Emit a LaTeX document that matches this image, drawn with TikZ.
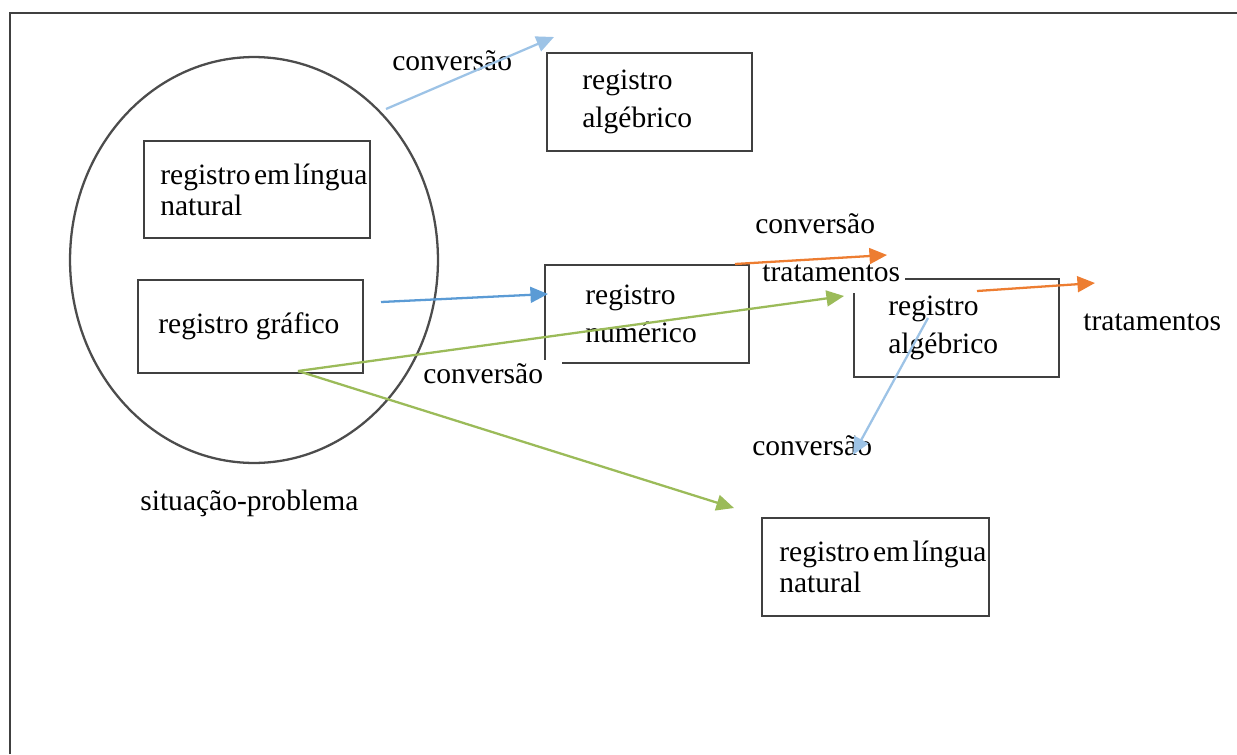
\documentclass[tikz,border=0pt]{standalone}
\usepackage{fontspec}
\setmainfont{Liberation Serif}
\usepackage{xcolor}
\usetikzlibrary{arrows.meta,shapes.geometric}
\definecolor{convblue}{HTML}{9DC3E6}
\definecolor{grafblue}{HTML}{5B9BD5}
\definecolor{tratorange}{HTML}{ED7D31}
\definecolor{convgreen}{HTML}{9BBB59}
\newcommand{\lw}{1.3pt}
\newcommand{\nsp}{\hspace{0.12em}}

\begin{document}
\begin{tikzpicture}[x=0.02cm, y=-0.02cm, >={Triangle[length=10pt,width=9pt]},
    font=\fontsize{16.8}{20}\selectfont,
    boxline/.style={draw=black!75, line width=\lw},
    regbox/.style={rectangle, inner sep=0pt, outer sep=0pt, anchor=north west},
    regtext/.style={inner sep=0pt, anchor=west, align=left},
    tight/.style={font=\fontsize{16.8}{17.6}\selectfont},
    loose/.style={font=\fontsize{16.8}{21.5}\selectfont},
    lbl/.style={inner sep=0pt, anchor=base west},
    arr/.style={->, line width=\lw}]
        \useasboundingbox (0,0) rectangle (1237,754);
        % outer frame
        \draw[boxline] (10,754) -- (10,13) -- (1237,13);
        % situation
        \node[ellipse, boxline, draw=black!70, inner sep=0pt, minimum width=7.36cm, minimum height=8.12cm] (sit) at (254,260) {};
        \node[lbl] (sit-t) at (140,510) {situação-problema};
        % registers
        \node[regbox, boxline, minimum width=4.52cm, minimum height=1.94cm] (ling1) at (144,141) {};
        \node[regtext, tight] (ling1-t) at ([xshift=0.32cm]ling1.west) {registro\nsp em\nsp língua\\natural};
        \node[regbox, boxline, minimum width=4.5cm, minimum height=1.86cm] (graf) at (138,280) {};
        \node[regtext] (graf-t) at ([xshift=0.4cm]graf.west) {registro gráfico};
        \node[regbox, boxline, minimum width=4.1cm, minimum height=1.96cm] (alg1) at (547,53) {};
        \node[regtext, loose] (alg1-t) at ([xshift=0.7cm]alg1.west) {registro\\algébrico};
        \node[regbox, minimum width=4.08cm, minimum height=1.96cm] (num) at (545,265) {};
        \draw[boxline] ([yshift=0.06cm]num.south west) -- (num.north west) -- (num.north east)
            -- (num.south east) -- ([xshift=0.34cm]num.south west);
        \node[regtext, loose] (num-t) at ([xshift=0.8cm]num.west) {registro\\numérico};
        \node[regbox, minimum width=4.1cm, minimum height=1.96cm] (alg2) at (854,279) {};
        \draw[boxline] ([xshift=1.02cm]alg2.north west) -- (alg2.north east) -- (alg2.south east)
            -- (alg2.south west) -- ([yshift=-0.28cm]alg2.north west);
        \node[regtext, loose] (alg2-t) at ([xshift=0.68cm]alg2.west) {registro\\algébrico};
        \node[regbox, boxline, minimum width=4.54cm, minimum height=1.96cm] (ling2) at (762,518) {};
        \node[regtext, tight] (ling2-t) at ([xshift=0.34cm]ling2.west) {registro\nsp em\nsp língua\\natural};
        % labels
        \node[lbl] (conv1) at (392,70) {conversão};
        \node[lbl] (conv2) at (755,233) {conversão};
        \node[lbl] (trat1) at (762,281) {tratamentos};
        \node[lbl] (trat2) at (1083,330) {tratamentos};
        \node[lbl] (conv3) at (423,383) {conversão};
        \node[lbl] (conv4) at (752,455) {conversão};
        % arrow ends
        \coordinate (c1a) at (386,109);
        \coordinate (c1b) at (554,37);
        \coordinate (g1a) at (381,302);
        \coordinate (g1b) at (548,294);
        \coordinate (o1a) at (735,264);
        \coordinate (o1b) at (887,255);
        \coordinate (o2a) at (977,291);
        \coordinate (o2b) at (1095,283);
        \coordinate (gr0) at (298,371);
        \coordinate (gr1) at (844,296);
        \coordinate (gr2) at (734,508);
        \coordinate (c4a) at (928,318);
        \coordinate (c4b) at (853,455);
        % arrows
        \draw[arr, convblue] (c1a) -- (c1b);
        \draw[arr, grafblue] (g1a) -- (g1b);
        \draw[arr, tratorange] (o1a) -- (o1b);
        \draw[arr, tratorange] (o2a) -- (o2b);
        \draw[arr, convgreen] (gr0) -- (gr1);
        \draw[arr, convgreen] (gr0) -- (gr2);
        \draw[arr, convblue] (c4a) -- (c4b);
    \end{tikzpicture}
\end{document}
